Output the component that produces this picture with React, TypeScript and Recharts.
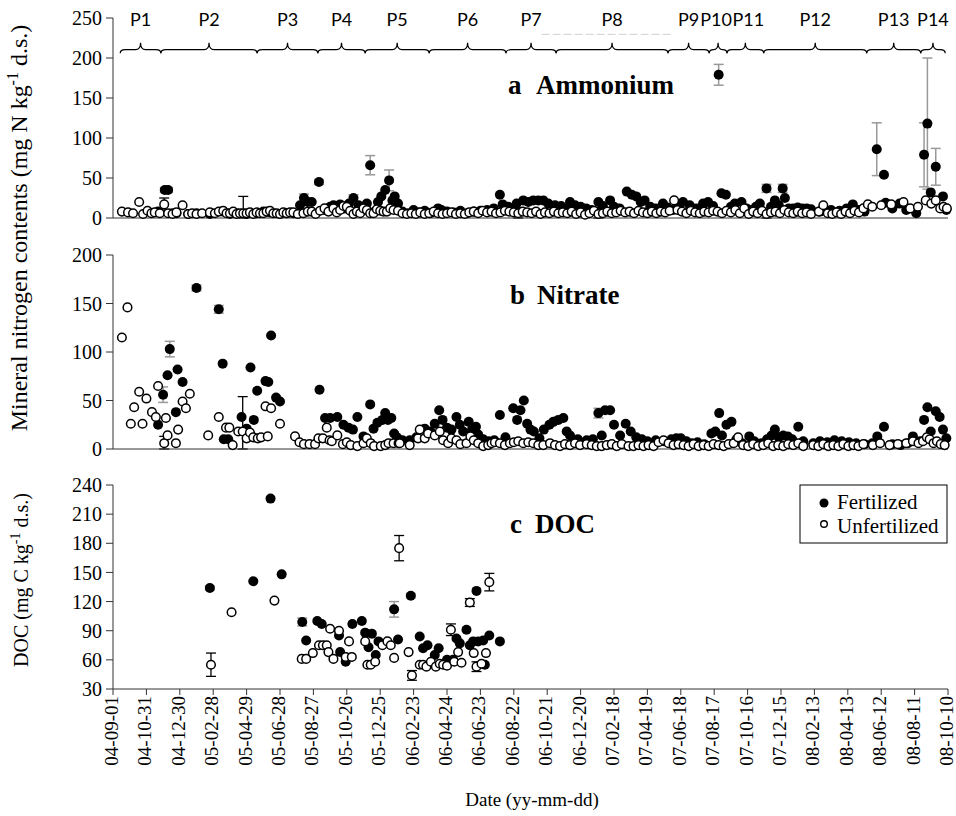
import { ScatterChart, Scatter, XAxis, YAxis, ErrorBar, ReferenceArea, ReferenceLine } from 'recharts';

const serif = '"Liberation Serif", "Times New Roman", Times, serif';

// x values are days since 2004-09-01; third entry is the error (number or [low, high])
type Pt = [number, number, (number | [number, number])?];

const dateTicks = [0, 60, 120, 180, 240, 300, 360, 420, 480, 540, 600, 660, 720, 780, 840, 900, 960, 1020, 1080, 1140, 1200, 1260, 1320, 1380, 1440, 1500];
const dateLabels = ['04-09-01', '04-10-31', '04-12-30', '05-02-28', '05-04-29', '05-06-28', '05-08-27', '05-10-26', '05-12-25', '06-02-23', '06-04-24', '06-06-23', '06-08-22', '06-10-21', '06-12-20', '07-02-18', '07-04-19', '07-06-18', '07-08-17', '07-10-16', '07-12-15', '08-02-13', '08-04-13', '08-06-12', '08-08-11', '08-10-10'];

const periodNames = ['P1', 'P2', 'P3', 'P4', 'P5', 'P6', 'P7', 'P8', 'P9', 'P10', 'P11', 'P12', 'P13', 'P14'];
const periodStart = [13, 86, 259, 368, 453, 568, 706, 796, 997, 1071, 1103, 1169, 1354, 1451];
const periodEnd = [86, 259, 368, 453, 568, 706, 796, 997, 1071, 1103, 1169, 1354, 1451, 1495];

const ammoniumFert: Pt[] = [
  [81, 8], [93, 35, 3], [99, 35, 3], [107, 6], [114, 6], [135, 5], [150, 6], [174, 5], [198, 8], [210, 5], [222, 6], [240, 5], [258, 6], [270, 8], [282, 7], [300, 5], [312, 6], [324, 6],
  [336, 16], [343, 25, 5], [350, 20], [357, 20], [370, 45, 3], [380, 10], [390, 14], [396, 16], [408, 17], [416, 12], [424, 18], [432, 25, 4], [441, 16], [448, 10], [456, 18], [462, 66, 12],
  [470, 8], [476, 20], [482, 27], [489, 35], [496, 47, 13], [502, 22], [506, 27], [512, 18], [520, 8], [530, 6], [540, 10], [550, 7], [560, 9], [570, 6], [584, 12], [590, 10], [600, 8],
  [612, 7], [624, 9], [636, 6], [648, 8], [660, 9], [672, 10], [684, 12], [695, 29], [700, 17], [710, 14], [718, 12], [725, 18], [737, 22], [746, 20], [755, 22], [764, 22], [773, 22],
  [782, 18], [794, 16], [805, 15], [814, 12], [821, 20], [830, 16], [840, 14], [850, 12], [860, 10], [872, 20], [880, 15], [893, 22], [900, 14], [910, 12], [923, 33], [932, 29], [940, 27],
  [948, 20], [955, 22], [965, 14], [975, 12], [988, 18], [996, 13], [1006, 10], [1016, 14], [1024, 20], [1036, 16], [1048, 12], [1060, 18], [1069, 20], [1078, 15], [1088, 179, 13],
  [1093, 31], [1101, 29], [1110, 14], [1117, 18], [1129, 20], [1138, 12], [1148, 10], [1155, 14], [1162, 18], [1174, 37, 5], [1182, 14], [1189, 22], [1196, 16], [1203, 37, 5], [1207, 25],
  [1214, 12], [1222, 12], [1230, 13], [1238, 12], [1246, 12], [1254, 11], [1270, 8], [1290, 10], [1305, 9], [1318, 12], [1329, 17], [1340, 10], [1350, 8], [1372, 86, 33], [1385, 54],
  [1388, 19], [1400, 12], [1413, 18], [1425, 10], [1443, 6], [1457, 79, 40], [1463, 118, 82], [1469, 32], [1478, 64, 23], [1491, 27], [1497, 10],
];

const ammoniumUnfert: Pt[] = [
  [16, 8], [27, 7], [36, 6], [47, 20], [54, 5], [62, 9], [69, 6], [75, 7], [84, 6], [92, 17, 8], [99, 6], [107, 5], [114, 7], [125, 16], [135, 5], [142, 6], [150, 5], [160, 6], [174, 7],
  [183, 6], [190, 8], [198, 9], [204, 6], [210, 6], [216, 8], [222, 5], [228, 6], [234, 6, [6, 21]], [240, 6], [246, 7], [252, 5], [258, 7], [264, 6], [270, 6], [276, 8], [282, 9], [288, 6],
  [294, 6], [300, 5], [306, 7], [312, 6], [318, 7], [324, 7], [332, 5], [342, 6], [350, 8], [357, 8], [364, 5], [372, 9], [380, 12], [387, 8], [396, 12], [402, 7], [408, 10], [414, 15],
  [420, 14], [426, 9], [432, 5], [438, 8], [444, 6], [450, 12], [456, 10], [462, 6], [468, 6], [474, 11], [480, 9], [486, 8], [492, 8], [498, 12], [504, 10],
  [512, 9], [520, 6], [528, 5], [536, 6], [544, 5], [552, 7], [560, 5], [568, 6], [576, 8], [584, 6], [592, 5], [600, 6], [608, 7], [616, 5], [624, 6], [632, 5], [640, 7], [648, 8],
  [656, 6], [664, 9], [672, 7], [680, 8], [688, 6], [696, 7], [704, 9], [712, 8], [720, 7], [728, 6, [6, 7]], [736, 8], [744, 7], [752, 6], [760, 8], [768, 5], [776, 7], [784, 6], [792, 8],
  [800, 6], [808, 7], [816, 6], [824, 8], [832, 5], [840, 7], [848, 4], [856, 6], [864, 9], [872, 5, [5, 8]], [880, 6], [888, 8], [896, 6], [904, 7], [912, 9], [920, 7], [928, 8], [936, 6],
  [944, 9], [952, 7], [960, 6], [968, 8], [976, 6], [984, 8], [992, 7], [1000, 9], [1008, 22], [1014, 10],
  [1022, 8], [1030, 6], [1038, 9], [1046, 7], [1054, 6], [1062, 8], [1070, 7], [1078, 9], [1086, 8], [1094, 6], [1102, 9], [1110, 7], [1118, 10], [1126, 6], [1134, 12], [1142, 5],
  [1150, 8], [1158, 6], [1166, 9], [1174, 5, [5, 6]], [1182, 7], [1190, 8], [1198, 6], [1206, 10], [1214, 7], [1222, 6], [1230, 8], [1238, 6], [1246, 7], [1254, 5], [1268, 8], [1276, 16],
  [1284, 6], [1292, 5], [1300, 7], [1308, 5], [1316, 8], [1324, 6], [1332, 9], [1340, 7], [1348, 12], [1356, 17], [1364, 14], [1380, 16], [1398, 17], [1420, 20], [1432, 12], [1446, 14],
  [1460, 22], [1470, 18], [1478, 22], [1486, 12], [1492, 14], [1498, 12],
];

const nitrateFert: Pt[] = [
  [81, 25], [90, 56, 8], [98, 76], [102, 103, 8], [113, 38], [116, 82], [125, 69], [150, 166, 3], [190, 144, 4], [197, 88], [199, 10], [207, 10], [231, 33], [240, 21], [247, 84], [253, 30],
  [259, 60], [274, 70], [279, 69], [284, 117], [293, 53], [300, 49], [371, 61], [381, 32], [390, 32], [403, 33], [414, 25], [423, 22], [431, 20], [439, 33], [450, 13], [462, 46], [468, 21],
  [475, 27], [484, 30], [489, 37], [494, 30], [500, 32], [505, 16], [510, 12],
  [520, 9], [533, 9], [545, 12], [560, 21], [570, 18], [578, 26], [586, 40], [592, 30], [600, 22], [608, 20], [617, 33], [623, 25], [629, 18], [639, 28], [645, 20], [652, 23], [656, 15],
  [665, 10], [675, 8], [685, 9], [695, 35], [705, 12], [719, 42], [726, 30], [732, 40], [738, 50], [744, 26], [750, 20], [756, 18], [766, 11], [774, 20], [784, 25], [791, 28], [800, 30],
  [809, 32], [815, 18], [821, 14], [835, 10], [851, 9], [862, 10], [872, 37, 5], [878, 14], [884, 40], [893, 40], [900, 25], [911, 14], [921, 26], [930, 18], [940, 12], [950, 10], [960, 8],
  [975, 9], [990, 8], [1003, 10], [1012, 11],
  [1020, 11], [1030, 8], [1040, 6], [1050, 7], [1062, 5], [1075, 16], [1082, 18], [1089, 37], [1094, 14], [1102, 25], [1111, 28], [1120, 10], [1130, 6], [1143, 13], [1152, 8], [1165, 6],
  [1175, 10], [1183, 14], [1189, 20], [1196, 12], [1204, 14], [1212, 13], [1220, 10], [1231, 23], [1240, 8], [1258, 6], [1270, 8], [1283, 7], [1296, 9], [1309, 8], [1322, 7], [1335, 6],
  [1350, 5], [1364, 6], [1373, 13], [1385, 23], [1400, 5], [1415, 4], [1428, 6], [1437, 13], [1450, 8], [1457, 30], [1463, 43], [1469, 18], [1478, 39], [1485, 33], [1491, 20], [1497, 11],
];

const nitrateUnfert: Pt[] = [
  [16, 115], [26, 146], [32, 26], [38, 43], [47, 59], [53, 26], [60, 52], [70, 38], [77, 33], [81, 65], [92, 6, [6, 7]], [95, 32], [98, 14], [113, 6], [117, 20], [125, 49], [131, 42],
  [138, 57], [171, 14], [190, 33], [203, 22], [209, 22], [215, 4], [225, 18], [233, 18, [18, 36]], [240, 11], [246, 17], [252, 12], [260, 11], [266, 12], [274, 44], [278, 13], [284, 42],
  [300, 26], [327, 13], [335, 7], [343, 5], [353, 5], [363, 5], [369, 11], [377, 11], [384, 22], [389, 9], [393, 8], [403, 14], [413, 5], [420, 7], [427, 4], [439, 3], [450, 6], [456, 11],
  [463, 6], [469, 3], [481, 3], [489, 4], [495, 6], [504, 6], [513, 6],
  [515, 6], [533, 4], [548, 11], [551, 20], [560, 11], [566, 16], [578, 14], [587, 18], [593, 9], [602, 6], [608, 11], [617, 9], [624, 5], [635, 6], [642, 13], [648, 9], [656, 6], [665, 3],
  [674, 4], [680, 6], [686, 7], [695, 6], [704, 4], [713, 6], [720, 7], [728, 8], [737, 6], [746, 7], [755, 6], [764, 4], [773, 4], [785, 6], [794, 4], [803, 3], [812, 5], [821, 4], [830, 6],
  [839, 4], [851, 5], [860, 4], [869, 3], [878, 3], [887, 4], [896, 5], [905, 3], [914, 5], [926, 3], [935, 3], [944, 4], [953, 3], [962, 4], [971, 3], [980, 7], [989, 9], [998, 6],
  [1007, 4], [1016, 5],
  [1025, 4], [1034, 3], [1043, 5], [1052, 3], [1061, 4], [1070, 3], [1079, 5], [1088, 4], [1097, 3], [1106, 5], [1115, 6], [1123, 12], [1132, 4], [1141, 3], [1150, 5], [1159, 3],
  [1168, 4], [1177, 6], [1186, 3], [1195, 4], [1204, 3], [1213, 5], [1222, 4], [1231, 6], [1240, 3], [1258, 4], [1267, 3], [1276, 5], [1285, 3], [1294, 4], [1303, 3], [1312, 5], [1321, 3],
  [1330, 4], [1339, 3], [1348, 5], [1365, 4], [1378, 6], [1395, 4], [1410, 5], [1425, 6], [1437, 8], [1447, 6], [1455, 8], [1462, 12], [1467, 10], [1474, 6], [1480, 8], [1487, 5], [1494, 4],
];

const docFert: Pt[] = [
  [174, 134, 2], [252, 141], [283, 226], [303, 148], [340, 99, 4], [347, 80], [367, 100], [375, 97], [406, 85], [408, 68], [418, 58], [430, 97], [447, 100], [453, 88], [459, 73], [465, 87],
  [472, 65], [477, 79], [505, 112, 8], [512, 81], [535, 126, 2], [551, 84], [557, 72], [565, 75], [578, 65], [585, 72], [600, 60], [611, 60], [617, 82], [623, 77], [635, 91], [641, 75],
  [647, 79], [653, 131], [656, 79], [665, 80], [668, 55], [676, 85], [695, 79],
];

const docUnfert: Pt[] = [
  [176, 55, 12], [213, 109], [290, 121], [339, 61], [347, 61], [359, 67], [370, 75], [377, 75], [384, 75], [387, 68], [390, 92], [396, 61], [406, 90], [418, 63], [424, 79], [429, 63],
  [453, 79], [457, 55], [463, 55], [471, 58], [484, 75], [493, 79], [499, 75], [505, 62], [514, 175, 13], [531, 68], [537, 44, 5], [551, 55], [557, 55], [563, 53], [571, 58], [580, 53],
  [587, 56], [593, 55], [600, 54], [607, 91, 6], [613, 58], [620, 68], [626, 57], [641, 119, 4], [648, 67], [653, 53, 5], [662, 56], [670, 67], [676, 140, 9],
];

const toRows = (pts: Pt[]) => pts.map(([x, y, err]) => ({ x, y, err }));

const fillDot = (p: any) => <circle cx={p.cx} cy={p.cy} r={5} fill="#000" />;
const openDot = (p: any) => <circle cx={p.cx} cy={p.cy} r={4.3} fill="#fff" stroke="#000" strokeWidth={1.5} />;

const yTick = { fontFamily: serif, fontSize: 20, fill: '#000' };
const axisColor = '#333';

function DateTick(props: any) {
  const { x, y, payload } = props;
  const label = dateLabels[Math.round(payload.value / 60)];
  return (
    <text x={x} y={y} dy={5} transform={`rotate(-90, ${x}, ${y})`} textAnchor="end" fontFamily={serif} fontSize={19} fill="#000">
      {label}
    </text>
  );
}

// small nudges so the narrow P10 / P11 labels sit side by side as in the figure
const labelShift: Record<string, number> = { P10: -2, P11: 3 };

function Brace(props: any) {
  const { x, y, width, height, name } = props;
  const mid = x + width / 2;
  const yb = y + height - 3.5;
  const ye = y + height;
  const r = Math.min(5, width / 4);
  const d = `M${x},${ye} Q${x},${yb} ${x + r},${yb} L${mid - r},${yb} Q${mid},${yb} ${mid},${y} Q${mid},${yb} ${mid + r},${yb} L${x + width - r},${yb} Q${x + width},${yb} ${x + width},${ye}`;
  return (
    <g>
      <path d={d} fill="none" stroke="#000" strokeWidth={1.2} />
      <text x={mid + (labelShift[name] ?? 0)} y={y - 17} textAnchor="middle" fontFamily="Lato, 'Open Sans', sans-serif" fontSize={18} fill="#000">
        {name}
      </text>
    </g>
  );
}

export default function App() {
  const aF = toRows(ammoniumFert);
  const aU = toRows(ammoniumUnfert);
  const bF = toRows(nitrateFert);
  const bU = toRows(nitrateUnfert);
  const cF = toRows(docFert);
  const cU = toRows(docUnfert);

  return (
    <div style={{ position: 'absolute', left: 0, top: 0, width: 956, height: 816, background: '#fff' }}>
      {/* a Ammonium */}
      <div style={{ position: 'absolute', left: 0, top: 0 }}>
        <ScatterChart width={956} height={232} margin={{ top: 18, right: 8, bottom: 0, left: 53 }}>
          <XAxis type="number" dataKey="x" domain={[0, 1500]} ticks={dateTicks} interval={0} tickSize={6} height={14} tick={false} stroke={axisColor} />
          <YAxis type="number" dataKey="y" domain={[0, 250]} ticks={[0, 50, 100, 150, 200, 250]} interval={0} width={60} tickSize={7} tickMargin={4} tick={yTick} stroke={axisColor} />
          {periodNames.map((n, i) => (
            <ReferenceArea key={n} x1={periodStart[i]} x2={periodEnd[i]} y1={206} y2={219} shape={(p: any) => <Brace {...p} name={n} />} />
          ))}
          <ReferenceLine segment={[{ x: 770, y: 229.6 }, { x: 1003, y: 229.6 }]} stroke="#d0d0d0" strokeDasharray="8 3" />
          <Scatter name="Fertilized" data={aF} isAnimationActive={false} shape={fillDot}>
            <ErrorBar dataKey="err" direction="y" width={5} stroke="#999" strokeWidth={1.5} />
          </Scatter>
          <Scatter name="Unfertilized" data={aU} isAnimationActive={false} shape={openDot}>
            <ErrorBar dataKey="err" direction="y" width={5} stroke="#000" strokeWidth={1.3} />
          </Scatter>
        </ScatterChart>
      </div>

      {/* b Nitrate */}
      <div style={{ position: 'absolute', left: 0, top: 240 }}>
        <ScatterChart width={956} height={223} margin={{ top: 15, right: 8, bottom: 0, left: 53 }}>
          <XAxis type="number" dataKey="x" domain={[0, 1500]} ticks={dateTicks} interval={0} tickSize={6} height={14} tick={false} stroke={axisColor} />
          <YAxis type="number" dataKey="y" domain={[0, 200]} ticks={[0, 50, 100, 150, 200]} interval={0} width={60} tickSize={7} tickMargin={4} tick={yTick} stroke={axisColor} />
          <Scatter name="Fertilized" data={bF} isAnimationActive={false} shape={fillDot}>
            <ErrorBar dataKey="err" direction="y" width={5} stroke="#999" strokeWidth={1.5} />
          </Scatter>
          <Scatter name="Unfertilized" data={bU} isAnimationActive={false} shape={openDot}>
            <ErrorBar dataKey="err" direction="y" width={5} stroke="#000" strokeWidth={1.3} />
          </Scatter>
        </ScatterChart>
      </div>

      {/* c DOC */}
      <div style={{ position: 'absolute', left: 0, top: 470 }}>
        <ScatterChart width={956} height={319} margin={{ top: 15, right: 8, bottom: 0, left: 53 }}>
          <XAxis type="number" dataKey="x" domain={[0, 1500]} ticks={dateTicks} interval={0} tickSize={6} tickMargin={1} height={100} tick={(p: any) => <DateTick {...p} />} stroke={axisColor} />
          <YAxis type="number" dataKey="y" domain={[30, 240]} ticks={[30, 60, 90, 120, 150, 180, 210, 240]} interval={0} width={60} tickSize={7} tickMargin={4} tick={yTick} stroke={axisColor} />
          <Scatter name="Fertilized" data={cF} isAnimationActive={false} shape={fillDot}>
            <ErrorBar dataKey="err" direction="y" width={5} stroke="#999" strokeWidth={1.5} />
          </Scatter>
          <Scatter name="Unfertilized" data={cU} isAnimationActive={false} shape={openDot}>
            <ErrorBar dataKey="err" direction="y" width={5} stroke="#000" strokeWidth={1.3} />
          </Scatter>
        </ScatterChart>
      </div>

      {/* titles, axis labels, legend */}
      <svg width={956} height={816} style={{ position: 'absolute', left: 0, top: 0, pointerEvents: 'none' }}>
        <g fontFamily={serif} fontWeight="bold" fontSize={27} fill="#000">
          <text x={508} y={94}>a</text>
          <text x={536} y={94}>Ammonium</text>
          <text x={510} y={304}>b</text>
          <text x={537} y={304}>Nitrate</text>
          <text x={510} y={533}>c</text>
          <text x={535} y={533}>DOC</text>
        </g>
        <text transform="translate(27,228) rotate(-90)" textAnchor="middle" fontFamily={serif} fontSize={24} fill="#000">
          Mineral nitrogen contents (mg N kg<tspan dy={-9} fontSize={16}>-1</tspan><tspan dy={9}> d.s.)</tspan>
        </text>
        <text transform="translate(28,580) rotate(-90)" textAnchor="middle" fontFamily={serif} fontSize={20} fill="#000">
          DOC (mg C kg<tspan dy={-8} fontSize={14}>-1</tspan><tspan dy={8}> d.s.)</tspan>
        </text>
        <text x={532} y={806} textAnchor="middle" fontFamily={serif} fontSize={19} fill="#000">
          Date (yy-mm-dd)
        </text>
        <rect x={800} y={485} width={147} height={58} fill="#fff" stroke="#000" strokeWidth={1} />
        <circle cx={824} cy={503} r={4.5} fill="#000" />
        <text x={837} y={509} fontFamily={serif} fontSize={21} fill="#000">Fertilized</text>
        <circle cx={824} cy={524} r={3.3} fill="#fff" stroke="#000" strokeWidth={1.4} />
        <text x={837} y={533} fontFamily={serif} fontSize={21} fill="#000">Unfertilized</text>
      </svg>
    </div>
  );
}
